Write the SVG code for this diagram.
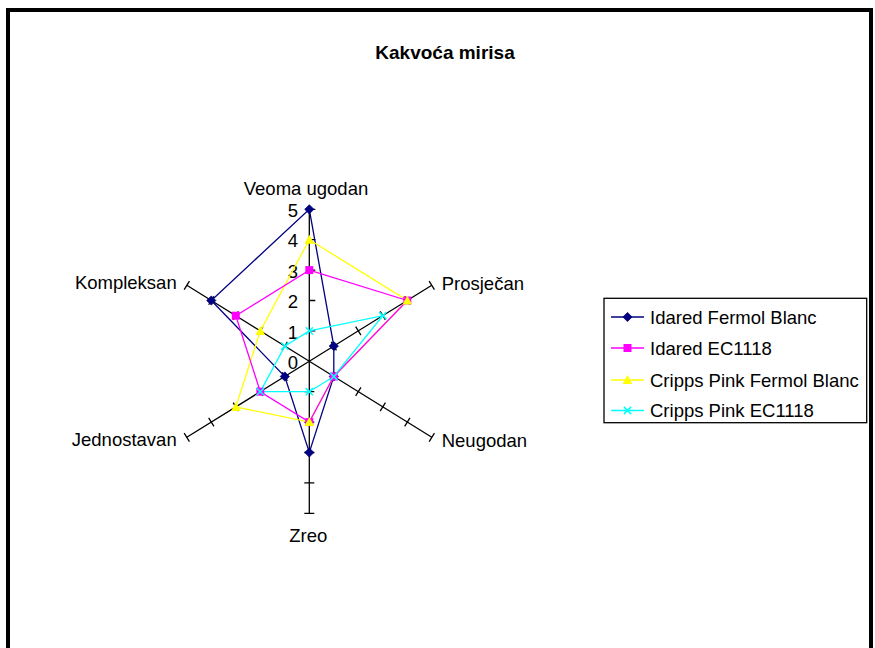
<svg xmlns="http://www.w3.org/2000/svg" width="875" height="648" viewBox="0 0 875 648">
<style>
text{font-family:"Liberation Sans",Arial,sans-serif;font-size:18.5px;fill:#000}
.title{font-weight:bold;font-size:19px}
.axis{stroke:#000;stroke-width:1.3;fill:none}
.s{fill:none;stroke-width:1.3;stroke-linejoin:miter}
.navy{stroke:#000080}.pink{stroke:#FF00FF}.yel{stroke:#FFFF00}.cyan{stroke:#00FFFF}
</style>
<defs>
<path id="mD" d="M0,-4.6 L4.6,0 L0,4.6 L-4.6,0Z" fill="#000080" stroke="#000080" stroke-width="0.8"/>
<rect id="mS" x="-4" y="-4" width="8" height="8" fill="#FF00FF"/>
<path id="mT" d="M0,-5 L4.8,4 L-4.8,4Z" fill="#FFFF00"/>
<path id="mX" d="M-3.6,-3.6 L3.6,3.6 M-3.6,3.6 L3.6,-3.6" stroke="#00FFFF" stroke-width="1.5" fill="none"/>
</defs>
<rect width="875" height="648" fill="#fff"/>
<rect x="8" y="10" width="863" height="700" fill="none" stroke="#000" stroke-width="4"/>
<text class="title" x="445" y="58.5" text-anchor="middle">Kakvoća mirisa</text>

<g id="axes">
<path class="axis" d="M309.3,361.3 L309.3,209.3 M309.3,361.3 L431.8,285.3 M309.3,361.3 L431.8,437.3 M309.3,361.3 L309.3,513.3 M309.3,361.3 L186.8,437.3 M309.3,361.3 L186.8,285.3"/>
<path class="axis" d="M309.3,330.9 h6 M309.3,300.5 h6 M309.3,270.1 h6 M309.3,239.7 h6 M309.3,209.3 h6
M304.3,391.7 h10 M304.3,422.1 h10 M304.3,452.5 h10 M304.3,482.9 h10 M304.3,513.3 h10
M331.16,341.85 L336.44,350.35 M355.66,326.65 L360.94,335.15 M380.16,311.45 L385.44,319.95 M404.66,296.25 L409.94,304.75 M429.16,281.05 L434.44,289.55
M336.44,372.25 L331.16,380.75 M360.94,387.45 L355.66,395.95 M385.44,402.65 L380.16,411.15 M409.94,417.85 L404.66,426.35 M434.44,433.05 L429.16,441.55
M282.16,372.25 L287.44,380.75 M257.66,387.45 L262.94,395.95 M233.16,402.65 L238.44,411.15 M208.66,417.85 L213.94,426.35 M184.16,433.05 L189.44,441.55
M282.16,350.35 L287.44,341.85 M257.66,335.15 L262.94,326.65 M233.16,319.95 L238.44,311.45 M208.66,304.75 L213.94,296.25 M184.16,289.55 L189.44,281.05"/>
<g text-anchor="end">
<text x="298" y="369">0</text>
<text x="298" y="338.6">1</text>
<text x="298" y="308.2">2</text>
<text x="298" y="277.8">3</text>
<text x="298" y="247.4">4</text>
<text x="298" y="217">5</text>
</g>
<text x="306" y="195" text-anchor="middle">Veoma ugodan</text>
<text x="441.7" y="290">Prosječan</text>
<text x="441.7" y="446.5">Neugodan</text>
<text x="308.3" y="541.7" text-anchor="middle">Zreo</text>
<text x="176.7" y="446" text-anchor="end">Jednostavan</text>
<text x="176.7" y="288.5" text-anchor="end">Kompleksan</text>
</g>

<g id="connectors">
<path class="s navy" d="M309.3,209.3 L333.8,346.1 L333.8,376.5 L309.3,452.5 L284.8,376.5 L211.3,300.5Z"/>
<path class="s yel" d="M309.3,239.7 L407.3,300.5 L333.8,376.5 L309.3,422.1 L235.8,406.9 L260.3,330.9Z"/>
<path class="s pink" d="M309.3,270.1 L407.3,300.5 L333.8,376.5 L309.3,422.1 L260.3,391.7 L235.8,315.7Z"/>
<path class="s cyan" d="M309.3,330.9 L382.8,315.7 L333.8,376.5 L309.3,391.7 L260.3,391.7 L284.8,346.1Z"/>
</g>

<g id="series-idared-fermol">
<use href="#mD" x="309.3" y="209.3"/><use href="#mD" x="333.8" y="346.1"/><use href="#mD" x="333.8" y="376.5"/><use href="#mD" x="309.3" y="452.5"/><use href="#mD" x="284.8" y="376.5"/><use href="#mD" x="211.3" y="300.5"/>
</g>
<g id="series-idared-ec">
<use href="#mS" x="309.3" y="270.1"/><use href="#mS" x="407.3" y="300.5"/><use href="#mS" x="333.8" y="376.5"/><use href="#mS" x="309.3" y="422.1"/><use href="#mS" x="260.3" y="391.7"/><use href="#mS" x="235.8" y="315.7"/>
</g>
<g id="series-cripps-fermol">
<use href="#mT" x="309.3" y="239.7"/><use href="#mT" x="407.3" y="300.5"/><use href="#mT" x="309.3" y="422.1"/><use href="#mT" x="235.8" y="406.9"/><use href="#mT" x="260.3" y="330.9"/>
</g>
<g id="series-cripps-ec">
<use href="#mX" x="309.3" y="330.9"/><use href="#mX" x="382.8" y="315.7"/><use href="#mX" x="333.8" y="376.5"/><use href="#mX" x="309.3" y="391.7"/><use href="#mX" x="260.3" y="391.7"/><use href="#mX" x="284.8" y="346.1"/>
</g>

<g id="legend">
<rect x="604" y="298.3" width="262.7" height="124.4" fill="#fff" stroke="#000" stroke-width="1.3"/>
<line x1="611" y1="317" x2="644" y2="317" class="s navy"/><use href="#mD" x="627.5" y="317"/>
<text x="650" y="323.5">Idared Fermol Blanc</text>
<line x1="611" y1="348" x2="644" y2="348" class="s pink"/><use href="#mS" x="627.5" y="348"/>
<text x="650" y="354.5">Idared EC1118</text>
<line x1="611" y1="380" x2="644" y2="380" class="s yel"/><use href="#mT" x="627.5" y="380"/>
<text x="650" y="386.5">Cripps Pink Fermol Blanc</text>
<line x1="611" y1="410.5" x2="644" y2="410.5" class="s cyan"/><use href="#mX" x="627.5" y="410.5"/>
<text x="650" y="417">Cripps Pink EC1118</text>
</g>
</svg>
